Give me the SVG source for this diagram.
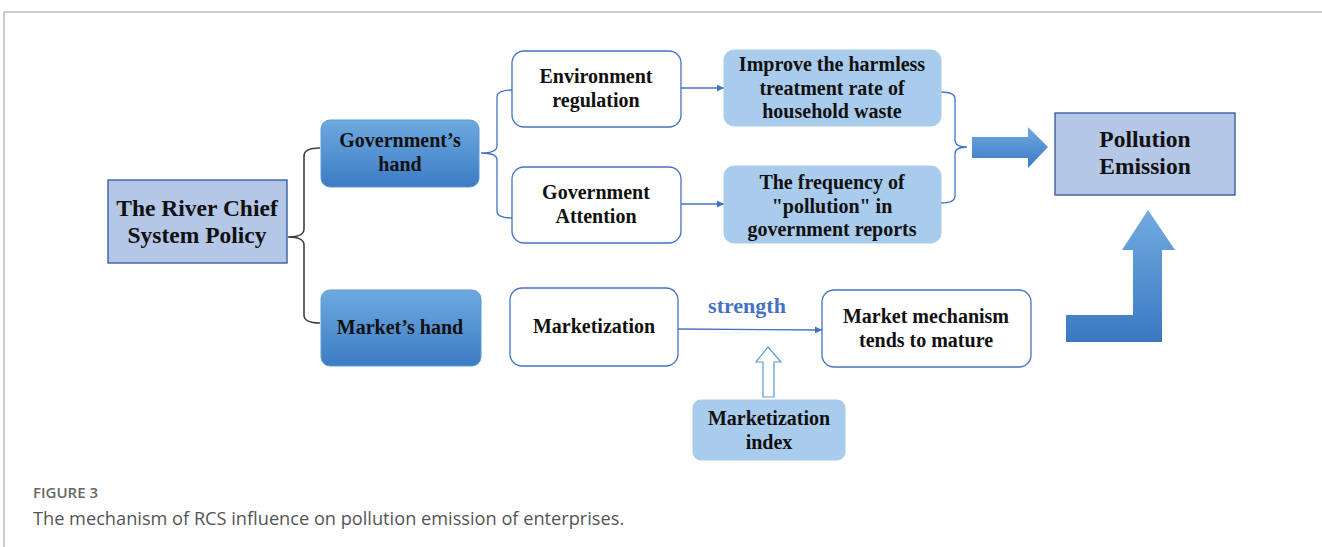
<svg xmlns="http://www.w3.org/2000/svg" width="1322" height="547" viewBox="0 0 1322 547">
<defs>
<style>
.t{font-family:"Liberation Serif","Times New Roman",serif;font-weight:bold;fill:#111;text-anchor:middle;font-size:20px}
.wbox{fill:#fff;stroke:#4472c4;stroke-width:1.3}
.lbox{fill:#a9cbec;stroke:#a9cbec;stroke-width:1}
.pbox{fill:#b4c7e7;stroke:#2f5597;stroke-width:1.3}
.gbox{fill:url(#g1);stroke:#5b9bd5;stroke-width:1}
.conn{fill:none;stroke:#4472c4;stroke-width:1.3}
.brk{fill:none;stroke:#404040;stroke-width:1.6}
.cap{font-family:"Open Sans","Noto Sans",sans-serif;fill:#555}
</style>
<linearGradient id="g1" x1="0" y1="0" x2="0" y2="1">
<stop offset="0" stop-color="#6ea9df"/>
<stop offset="1" stop-color="#3b7cc4"/>
</linearGradient>
<linearGradient id="g2" x1="0" y1="0" x2="0" y2="1">
<stop offset="0" stop-color="#72abe0"/>
<stop offset="1" stop-color="#3a78c2"/>
</linearGradient>
<marker id="ah" viewBox="0 0 10 10" refX="10" refY="5" markerWidth="7" markerHeight="7" orient="auto" markerUnits="userSpaceOnUse">
<path d="M0,0 L10,5 L0,10 z" fill="#4472c4"/>
</marker>
</defs>
<rect width="1322" height="547" fill="#fff"/>
<path d="M4,547 L4,12 L1322,12" fill="none" stroke="#bdbdbd" stroke-width="1.5"/>

<g id="connectors">
<path class="brk" d="M320,148 Q304,148 304,156 L304,229 Q304,237 288,237 Q304,237 304,245 L304,315 Q304,323 320,323"/>
<path class="conn" d="M512,90 Q497,90 497,97 L497,146 Q497,153 481,153 Q497,153 497,160 L497,211 Q497,218 512,218"/>
<path class="conn" d="M941,92 Q955,92 955,99 L955,140 Q955,147 967,147 Q955,147 955,154 L955,196 Q955,203 941,203"/>
<line class="conn" x1="681" y1="88" x2="724" y2="88" marker-end="url(#ah)"/>
<line class="conn" x1="681" y1="204" x2="724" y2="204" marker-end="url(#ah)"/>
<line class="conn" x1="678" y1="329" x2="822" y2="330" marker-end="url(#ah)"/>
<text x="747" y="313" style="font-family:'Liberation Serif',serif;font-weight:bold;font-size:22px;fill:#4472c4;text-anchor:middle">strength</text>
<path d="M768,347 L781,362 L774,362 L774,397 L763,397 L763,362 L756,362 z" fill="#fff" stroke="#5b9bd5" stroke-width="1.2"/>
<path d="M972,137 L1028,137 L1028,127 L1048,147 L1028,168 L1028,158 L972,158 z" fill="url(#g2)"/>
<path d="M1148,210 L1175,250 L1162,250 L1162,342 L1066,342 L1066,315 L1133,315 L1133,250 L1122,250 z" fill="url(#g2)"/>
</g>

<g id="river">
<rect class="pbox" x="108" y="180" width="179" height="83"/>
<text class="t" x="197" y="216" style="font-size:23.5px">The River Chief</text>
<text class="t" x="197" y="243" style="font-size:23.5px">System Policy</text>
</g>
<g id="govhand">
<rect class="gbox" x="321" y="120" width="158" height="67" rx="9"/>
<text class="t" x="400" y="147">Government’s</text>
<text class="t" x="400" y="171">hand</text>
</g>
<g id="markethand">
<rect class="gbox" x="321" y="290" width="160" height="76" rx="9"/>
<text class="t" x="400" y="334">Market’s hand</text>
</g>
<g id="envreg">
<rect class="wbox" x="512" y="51" width="169" height="76" rx="12"/>
<text class="t" x="596" y="83">Environment</text>
<text class="t" x="596" y="107">regulation</text>
</g>
<g id="govatt">
<rect class="wbox" x="512" y="167" width="169" height="76" rx="12"/>
<text class="t" x="596" y="199">Government</text>
<text class="t" x="596" y="223">Attention</text>
</g>
<g id="improve">
<rect class="lbox" x="724" y="50" width="217" height="76" rx="10"/>
<text class="t" x="832" y="71">Improve the harmless</text>
<text class="t" x="832" y="95">treatment rate of</text>
<text class="t" x="832" y="118">household waste</text>
</g>
<g id="frequency">
<rect class="lbox" x="724" y="166" width="217" height="77" rx="10"/>
<text class="t" x="832" y="189">The frequency of</text>
<text class="t" x="832" y="213">"pollution" in</text>
<text class="t" x="832" y="236">government reports</text>
</g>
<g id="pollution">
<rect class="pbox" x="1055" y="113" width="180" height="82"/>
<text class="t" x="1145" y="147" style="font-size:23.5px">Pollution</text>
<text class="t" x="1145" y="174" style="font-size:23.5px">Emission</text>
</g>
<g id="marketization">
<rect class="wbox" x="510" y="288" width="168" height="78" rx="12"/>
<text class="t" x="594" y="333">Marketization</text>
</g>
<g id="mechanism">
<rect class="wbox" x="822" y="290" width="209" height="77" rx="12"/>
<text class="t" x="926" y="323">Market mechanism</text>
<text class="t" x="926" y="347">tends to mature</text>
</g>
<g id="index">
<rect class="lbox" x="693" y="400" width="152" height="60" rx="8"/>
<text class="t" x="769" y="425">Marketization</text>
<text class="t" x="769" y="449">index</text>
</g>

<text class="cap" x="33" y="498" style="font-size:15px;font-weight:600;fill:#666">FIGURE 3</text>
<text class="cap" x="33" y="525" style="font-size:18.2px">The mechanism of RCS influence on pollution emission of enterprises.</text>
</svg>
